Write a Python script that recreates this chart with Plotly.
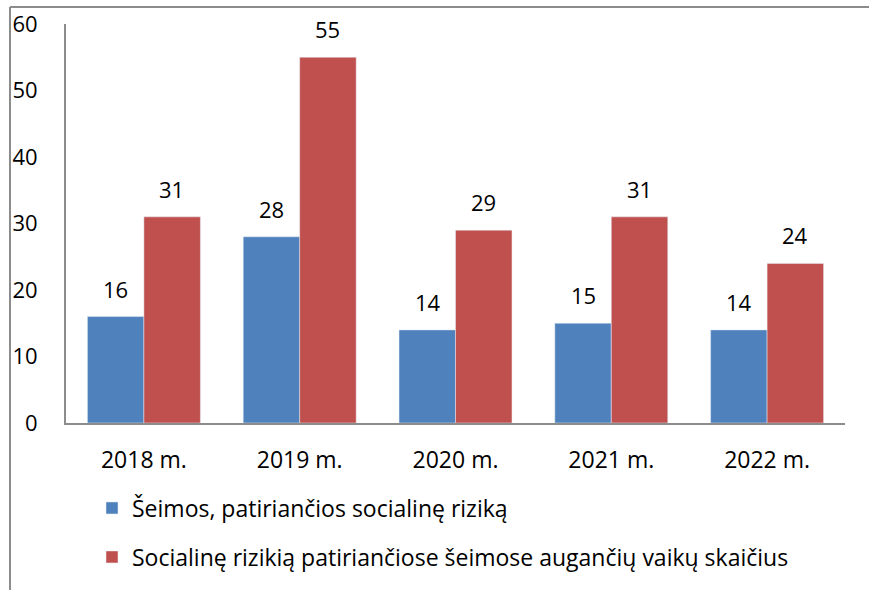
import plotly.graph_objects as go

categories = ["2018 m.", "2019 m.", "2020 m.", "2021 m.", "2022 m."]
series1_name = "Šeimos, patiriančios socialinę riziką"
series1_values = [16, 28, 14, 15, 14]
series2_name = "Socialinę rizikią patiriančiose šeimose augančių vaikų skaičius"
series2_values = [31, 55, 29, 31, 24]
y_ticks = [0, 10, 20, 30, 40, 50, 60]

FONT = "'Open Sans', sans-serif"
FS = 22
FS_TXT = 23
BLUE = "#4F81BD"
RED = "#C0504D"
GRAY = "#8c8c8c"

W, H = 869, 590
L, R, T, B = 66, 24, 24, 167
pw, ph = W - L - R, H - T - B

fig = go.Figure()
fig.add_trace(go.Bar(x=categories, y=series1_values, name=series1_name,
                     marker_color=BLUE, legend="legend"))
fig.add_trace(go.Bar(x=categories, y=series2_values, name=series2_name,
                     marker_color=RED, legend="legend2"))

annotations = []
for vals, shift in ((series1_values, -28), (series2_values, 28)):
    for c, v in zip(categories, vals):
        annotations.append(dict(x=c, y=v, text=str(v), showarrow=False,
                                xref="x", yref="y", xshift=shift, yshift=11,
                                yanchor="bottom",
                                font=dict(family=FONT, size=FS, color="black")))

def px_x(x):
    return (x - L) / pw

def px_y(y):
    return 1 - (y - T) / ph

shapes = [
    dict(type="line", xref="paper", yref="paper", x0=px_x(10), x1=px_x(10),
         y0=px_y(7), y1=px_y(600), line=dict(color=GRAY, width=2)),
    dict(type="line", xref="paper", yref="paper", x0=px_x(10), x1=px_x(880),
         y0=px_y(7), y1=px_y(7), line=dict(color=GRAY, width=2)),
]

fig.update_layout(
    width=W, height=H,
    margin=dict(l=L, r=R, t=T, b=B, pad=0, autoexpand=False),
    paper_bgcolor="white", plot_bgcolor="white",
    barmode="group", bargap=0.275, bargroupgap=0,
    font=dict(family=FONT, size=FS, color="black"),
    annotations=annotations,
    shapes=shapes,
    showlegend=True,
    legend=dict(x=px_x(92), y=px_y(508), xanchor="left", yanchor="middle",
                font=dict(family=FONT, size=FS_TXT), bgcolor="rgba(0,0,0,0)",
                itemwidth=30),
    legend2=dict(x=px_x(92), y=px_y(557), xanchor="left", yanchor="middle",
                 font=dict(family=FONT, size=FS_TXT), bgcolor="rgba(0,0,0,0)",
                 itemwidth=30),
)

fig.update_xaxes(showline=True, linecolor=GRAY, linewidth=2, showgrid=False,
                 ticks="", ticklabelstandoff=15,
                 tickfont=dict(family=FONT, size=FS_TXT))
fig.update_yaxes(range=[0, 60], tickvals=y_ticks, showline=True, linecolor=GRAY,
                 linewidth=2, showgrid=False, zeroline=False, ticks="",
                 ticklabelstandoff=22, tickfont=dict(family=FONT, size=FS))

fig.write_html("out.html", config={"displayModeBar": False},
               post_script="document.body.style.margin='0';document.body.style.overflow='hidden';")
